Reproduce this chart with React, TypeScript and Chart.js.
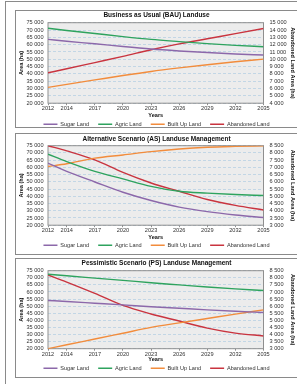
import React, { useEffect, useRef } from 'react';
import { Chart, registerables } from 'chart.js';
Chart.register(...registerables);

// ---------- data ----------
const years = [2012, 2014, 2017, 2020, 2023, 2026, 2029, 2032, 2035];
const xTickYears = [2012, 2014, 2017, 2020, 2023, 2026, 2029, 2032, 2035];
const seriesNames = ['Sugar Land', 'Agric Land', 'Built Up Land', 'Abandoned Land'];
const seriesColors = ['#8c68aa', '#2ea35e', '#f28c3c', '#c9343f'];

const bauSugar = [63600, 62300, 60600, 58700, 57000, 55700, 54600, 53600, 52900];
const bauAgric = [71200, 69700, 67600, 65500, 63600, 62100, 60700, 59500, 58600];
const bauBuilt = [30800, 32900, 35900, 38900, 41700, 44100, 46300, 48300, 50100];
const bauAband = [8150, 8700, 9550, 10400, 11300, 12100, 12800, 13500, 14200];

const asSugar = [62900, 57200, 49900, 42800, 37100, 32500, 29400, 27100, 25300];
const asAgric = [69100, 64000, 57200, 52000, 46900, 43500, 42200, 41200, 40500];
const asBuilt = [60600, 62500, 66400, 68600, 70900, 72700, 73900, 74500, 74900];
const asAband = [8500, 8140, 7520, 6650, 5920, 5350, 4780, 4370, 4050];

const psSugar = [54000, 53300, 52100, 50900, 49600, 48500, 47400, 46400, 45500];
const psAgric = [72500, 71400, 69800, 68200, 66500, 65000, 63500, 62200, 61000];
const psBuilt = [20000, 22800, 26800, 30900, 35000, 38200, 41300, 44400, 47400];
const psAband = [8200, 7700, 6900, 6050, 5450, 4950, 4450, 4100, 3900];

const titles = [
  'Business as Usual (BAU) Landuse',
  'Alternative Scenario (AS) Landuse Management',
  'Pessimistic Scenario (PS) Landuse Management',
];
const leftAxisTitle = 'Area (ha)';
const rightAxisTitle = 'Abandoned Land Area (ha)';
const xAxisTitle = 'Years';
const leftRange = [20000, 75000, 5000];
const rightRanges = [
  [4000, 15000, 1000],
  [3000, 8500, 500],
  [3000, 8500, 500],
];
const panelSeries = [
  [bauSugar, bauAgric, bauBuilt, bauAband],
  [asSugar, asAgric, asBuilt, asAband],
  [psSugar, psAgric, psBuilt, psAband],
];

// ---------- layout (pixels) ----------
const FONT = "'Liberation Sans', Arial, sans-serif";
const TICK_SIZE = 5.6;
const AXIS_TITLE_SIZE = 5.6;
const TITLE_SIZE = 6.5;
const CANVAS_LEFT = 16;
const CANVAS_W = 281;
const PLOT_LEFT = 48;
const PLOT_RIGHT = 263.5;
const LEG_PAD = 9;

const panels = [
  { boxTop: 10, boxBottom: 128, titleY: 15.7, plotTop: 22.7, plotBottom: 103, yearsY: 115, legendY: 124 },
  { boxTop: 133, boxBottom: 255, titleY: 139, plotTop: 145.7, plotBottom: 225, yearsY: 237, legendY: 245 },
  { boxTop: 258, boxBottom: 378, titleY: 263, plotTop: 270.7, plotBottom: 348.5, yearsY: 359.5, legendY: 368 },
];

const fmt = (v: number) => String(v).replace(/\B(?=(\d{3})+(?!\d))/g, ' ');

const plotFrame = {
  id: 'plotFrame',
  beforeDraw(chart: any) {
    const { ctx, chartArea: a } = chart;
    ctx.save();
    ctx.fillStyle = '#ececec';
    ctx.fillRect(a.left, a.top, a.right - a.left, a.bottom - a.top);
    ctx.restore();
  },
  beforeDatasetsDraw(chart: any) {
    const { ctx, chartArea: a } = chart;
    ctx.save();
    ctx.strokeStyle = '#8f8f8f';
    ctx.lineWidth = 1;
    ctx.strokeRect(a.left, a.top, a.right - a.left, a.bottom - a.top);
    ctx.restore();
  },
};

function Panel({ idx }: { idx: number }) {
  const ref = useRef<HTMLCanvasElement | null>(null);
  const p = panels[idx];
  const titleHalf = (TITLE_SIZE * 1.2) / 2;
  const canvasTop = Math.round(p.titleY - titleHalf);
  const legendCenterOff = LEG_PAD + TICK_SIZE / 2;
  const legendTop = p.legendY - legendCenterOff;
  const legendH = TICK_SIZE + LEG_PAD + 10;
  const canvasH = Math.ceil(legendTop + legendH - canvasTop);
  const titlePadTop = p.titleY - titleHalf - canvasTop;
  const titlePadBottom = p.plotTop - p.titleY - titleHalf;
  const xH = legendTop - p.plotBottom;
  const axHalf = (AXIS_TITLE_SIZE * 1.2) / 2;
  const yearsPad = legendTop - axHalf - p.yearsY;
  const [rMin, rMax, rStep] = rightRanges[idx];

  useEffect(() => {
    const series = panelSeries[idx];
    const datasets = series.map((vals, i) => ({
      label: seriesNames[i],
      data: years.map((yr, k) => ({ x: yr, y: vals[k] })),
      borderColor: seriesColors[i],
      backgroundColor: seriesColors[i],
      borderWidth: 1.4,
      pointRadius: 0,
      cubicInterpolationMode: 'monotone' as const,
      yAxisID: i === 3 ? 'y1' : 'y',
    }));
    const tickFont = { family: FONT, size: TICK_SIZE };
    const axFont = { family: FONT, size: AXIS_TITLE_SIZE, weight: 'bold' as const };
    const chart = new Chart(ref.current as HTMLCanvasElement, {
      type: 'line',
      data: { datasets },
      plugins: [plotFrame],
      options: {
        animation: false,
        responsive: false,
        devicePixelRatio: 1,
        layout: { padding: 0 },
        plugins: {
          title: {
            display: true,
            text: titles[idx],
            color: '#111',
            font: { family: FONT, size: TITLE_SIZE, weight: 'bold' },
            padding: { top: titlePadTop, bottom: titlePadBottom },
          },
          legend: {
            position: 'bottom',
            labels: {
              color: '#333',
              font: tickFont,
              boxWidth: 14,
              boxHeight: 0,
              padding: LEG_PAD,
            },
          },
          tooltip: { enabled: false },
        },
        scales: {
          x: {
            type: 'linear',
            min: 2012,
            max: 2035,
            afterBuildTicks: (s: any) => {
              s.ticks = xTickYears.map((v) => ({ value: v }));
            },
            afterFit: (s: any) => {
              s.height = xH;
            },
            ticks: {
              callback: (v: any) => String(v),
              font: tickFont,
              color: '#333',
              padding: 0,
              maxRotation: 0,
              autoSkip: false,
            },
            grid: { drawOnChartArea: false, drawTicks: true, tickLength: 2, color: '#8f8f8f', lineWidth: 1 },
            border: { display: false },
            title: {
              display: true,
              text: xAxisTitle,
              color: '#111',
              font: axFont,
              padding: { top: 0, bottom: yearsPad },
            },
          },
          y: {
            position: 'left',
            min: leftRange[0],
            max: leftRange[1],
            afterFit: (s: any) => {
              s.width = PLOT_LEFT - CANVAS_LEFT;
            },
            ticks: {
              stepSize: leftRange[2],
              autoSkip: false,
              callback: (v: any) => fmt(v),
              font: tickFont,
              color: '#333',
              padding: 4.5,
            },
            grid: { color: '#b7d0e3', lineWidth: 0.8, drawTicks: false },
            border: { display: false, dash: [3, 2] },
            title: {
              display: true,
              text: leftAxisTitle,
              color: '#111',
              font: axFont,
              padding: { top: 21 - CANVAS_LEFT - axHalf, bottom: 0 },
            },
          },
          y1: {
            position: 'right',
            min: rMin,
            max: rMax,
            afterFit: (s: any) => {
              s.width = CANVAS_LEFT + CANVAS_W - PLOT_RIGHT;
            },
            ticks: {
              stepSize: rStep,
              autoSkip: false,
              callback: (v: any) => fmt(v),
              font: tickFont,
              color: '#333',
              padding: 6,
            },
            grid: { drawOnChartArea: false, drawTicks: false },
            border: { display: false },
            title: {
              display: true,
              text: rightAxisTitle,
              color: '#111',
              font: axFont,
              padding: { top: CANVAS_LEFT + CANVAS_W - 293 - axHalf, bottom: 0 },
            },
          },
        },
      },
    } as any);
    return () => chart.destroy();
  }, []);

  return (
    <canvas
      ref={ref}
      width={CANVAS_W}
      height={canvasH}
      style={{ position: 'absolute', left: CANVAS_LEFT, top: canvasTop, width: CANVAS_W, height: canvasH }}
    />
  );
}

export default function App() {
  return (
    <div
      style={{
        position: 'absolute',
        left: 0,
        top: 0,
        width: 297,
        height: 384,
        overflow: 'hidden',
        background: '#fff',
      }}
    >
      <div
        style={{
          position: 'absolute',
          left: 5,
          top: 1,
          width: 320,
          height: 420,
          borderLeft: '1px solid #8a8a8a',
          borderTop: '1px solid #8a8a8a',
        }}
      />
      {panels.map((p, i) => (
        <div
          key={'b' + i}
          style={{
            position: 'absolute',
            left: 15,
            top: p.boxTop,
            width: 300,
            height: p.boxBottom - p.boxTop,
            boxSizing: 'border-box',
            border: '1px solid #8a8a8a',
          }}
        />
      ))}
      {panels.map((p, i) => (
        <Panel key={'c' + i} idx={i} />
      ))}
    </div>
  );
}
